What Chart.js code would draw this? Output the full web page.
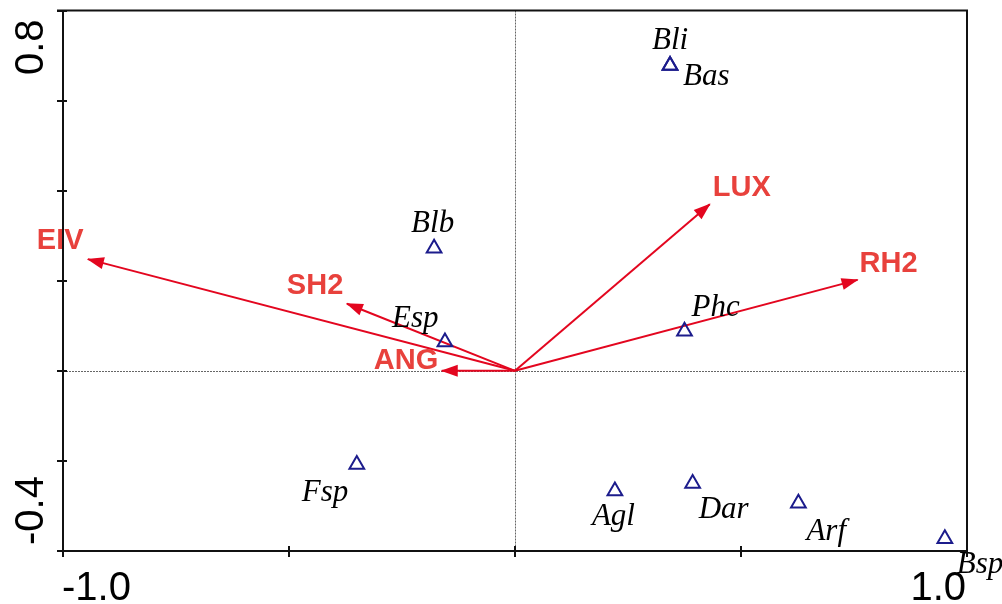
<!DOCTYPE html>
<html>
<head>
<meta charset="utf-8">
<script src="https://cdn.jsdelivr.net/npm/chart.js@4"></script>
<style>
  html,body{margin:0;padding:0;background:#fff;}
  #wrap{width:1002px;height:604px;}
</style>
</head>
<body>
<div id="wrap"><canvas id="chart" width="1002" height="604"></canvas></div>
<script>
/* DATA */
const species=['Bli','Bas','Blb','Esp','Phc','Fsp','Agl','Dar','Arf','Bsp'];
const speciesX=[0.343,0.343,-0.179,-0.155,0.375,-0.350,0.221,0.393,0.627,0.951];
const speciesY=[0.678,0.678,0.272,0.064,0.088,-0.208,-0.267,-0.250,-0.294,-0.373];

const variables=['EIV','SH2','ANG','LUX','RH2'];
const varX=[-0.945,-0.372,-0.162,0.431,0.758];
const varY=[0.248,0.149,0,0.370,0.202];

const xTicks=[-1,-0.5,0,0.5,1];
const yTicks=[-0.4,-0.2,0,0.2,0.4,0.6,0.8];
const xTickLabels=['-1.0','','','','1.0'];
const yTickLabels=['-0.4','','','','','','0.8'];

/* label placement (px from the mark) */
const speciesLabelOffset=[[-18,-16],[13,20],[-23,-16],[-53,-15],[7,-15],[-55,36],[-23,34],[6,35],[8,37],[12,34]];
const varLabelOffset=[[-51,-10],[-60,-10],[-68,-2],[3,-8],[2,-8]];

const RED='#e3061f';
const RED_TEXT='#e8413c';
const NAVY='#1c1c8c';

const arrowSets=variables.map((v,i)=>({
  type:'line',
  label:v,
  data:[{x:0,y:0},{x:varX[i],y:varY[i]}],
  borderColor:RED,
  borderWidth:2,
  pointRadius:0,
  fill:false,
  order:2
}));

const speciesSet={
  type:'scatter',
  label:'species',
  data:species.map((s,i)=>({x:speciesX[i],y:speciesY[i]})),
  pointStyle:'triangle',
  pointRadius:8.5,
  borderColor:NAVY,
  backgroundColor:'rgba(0,0,0,0)',
  borderWidth:2,
  order:1
};

/* frame, zero lines, ticks and labels */
const biplot={
  id:'biplot',
  beforeDatasetsDraw(chart){
    const {ctx,chartArea:a,scales:{x,y}}=chart;
    ctx.save();
    ctx.strokeStyle='#666';
    ctx.lineWidth=1;
    ctx.setLineDash([2,1]);
    const x0=Math.round(x.getPixelForValue(0))+0.5;
    const y0=Math.round(y.getPixelForValue(0))+0.5;
    ctx.beginPath();
    ctx.moveTo(x0,a.top);ctx.lineTo(x0,a.bottom);
    ctx.moveTo(a.left,y0);ctx.lineTo(a.right,y0);
    ctx.stroke();
    ctx.restore();
  },
  afterDatasetsDraw(chart){
    const {ctx,chartArea:a,scales:{x,y}}=chart;
    ctx.save();

    // arrowheads
    ctx.fillStyle=RED;
    variables.forEach((v,i)=>{
      const px=x.getPixelForValue(varX[i]);
      const py=y.getPixelForValue(varY[i]);
      const ox=x.getPixelForValue(0);
      const oy=y.getPixelForValue(0);
      const ang=Math.atan2(py-oy,px-ox);
      const len=16,hw=6;
      ctx.save();
      ctx.translate(px,py);
      ctx.rotate(ang);
      ctx.beginPath();
      ctx.moveTo(1,0);
      ctx.lineTo(-len,-hw);
      ctx.lineTo(-len,hw);
      ctx.closePath();
      ctx.fill();
      ctx.restore();
    });

    // arrow labels
    ctx.fillStyle=RED_TEXT;
    ctx.font='bold 29px "Liberation Sans", Arial, sans-serif';
    ctx.textAlign='left';
    ctx.textBaseline='alphabetic';
    variables.forEach((v,i)=>{
      const px=x.getPixelForValue(varX[i]);
      const py=y.getPixelForValue(varY[i]);
      ctx.fillText(v,px+varLabelOffset[i][0],py+varLabelOffset[i][1]);
    });

    // species labels
    ctx.fillStyle='#000';
    ctx.font='italic 31px "Liberation Serif", "Times New Roman", serif';
    species.forEach((s,i)=>{
      const px=x.getPixelForValue(speciesX[i]);
      const py=y.getPixelForValue(speciesY[i]);
      ctx.fillText(s,px+speciesLabelOffset[i][0],py+speciesLabelOffset[i][1]);
    });

    // frame
    ctx.strokeStyle='#111';
    ctx.lineWidth=2;
    ctx.setLineDash([]);
    ctx.beginPath();
    ctx.moveTo(a.left-6,a.top);ctx.lineTo(a.right,a.top);
    ctx.lineTo(a.right,a.bottom);ctx.lineTo(a.left,a.bottom);
    ctx.lineTo(a.left,a.top);
    ctx.stroke();

    // tick marks (crossing)
    ctx.beginPath();
    xTicks.forEach(t=>{
      const p=Math.round(x.getPixelForValue(t));
      ctx.moveTo(p,a.bottom-5);ctx.lineTo(p,a.bottom+6);
    });
    yTicks.forEach(t=>{
      const p=Math.round(y.getPixelForValue(t));
      ctx.moveTo(a.left-6,p);ctx.lineTo(a.left+4,p);
    });
    ctx.stroke();

    // tick labels
    ctx.fillStyle='#000';
    ctx.font='40px "Liberation Sans", Arial, sans-serif';
    xTicks.forEach((t,i)=>{
      const lab=xTickLabels[i];
      if(!lab) return;
      const p=x.getPixelForValue(t);
      ctx.textAlign=i===0?'left':'right';
      ctx.fillText(lab,i===0?p-1:p-1,600);
    });
    yTicks.forEach((t,i)=>{
      const lab=yTickLabels[i];
      if(!lab) return;
      const p=y.getPixelForValue(t);
      ctx.save();
      ctx.translate(43,i===0?p-6:p+9);
      ctx.rotate(-Math.PI/2);
      ctx.textAlign=i===0?'left':'right';
      ctx.fillText(lab,0,0);
      ctx.restore();
    });

    ctx.restore();
  }
};

new Chart(document.getElementById('chart'),{
  type:'scatter',
  data:{datasets:[...arrowSets,speciesSet]},
  options:{
    responsive:false,
    animation:false,
    events:[],
    layout:{padding:{left:63,top:8,right:35,bottom:53}},
    plugins:{legend:{display:false},tooltip:{enabled:false}},
    scales:{
      x:{type:'linear',min:-1,max:1,display:false},
      y:{type:'linear',min:-0.4,max:0.8,display:false}
    }
  },
  plugins:[biplot]
});
</script>
</body>
</html>
